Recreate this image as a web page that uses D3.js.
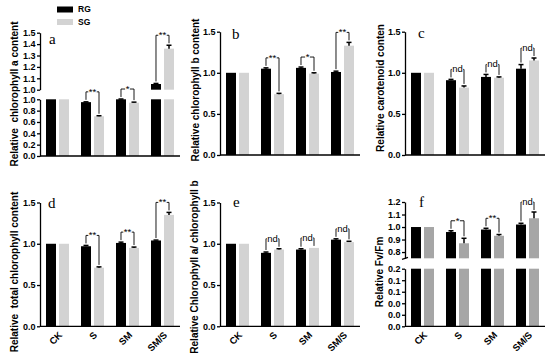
<!DOCTYPE html>
<html>
<head>
<meta charset="utf-8">
<script src="https://cdn.jsdelivr.net/npm/d3@7"></script>
<style>
  body { margin: 0; background: #fff; }
  text { font-family: "Liberation Sans", Arial, sans-serif; }
</style>
</head>
<body>
<div id="chart"></div>
<script>
var categories = ["CK", "S", "SM", "SM/S"];
var seriesNames = ["RG", "SG"];

// a - chlorophyll a
var chlA_RG = [1.00, 0.95, 1.00, 1.05];
var chlA_SG = [1.00, 0.70, 0.94, 1.36];
var chlA_RGerr = [0, 0.005, 0.005, 0.005];
var chlA_SGerr = [0, 0.01, 0.01, 0.03];
var chlA_sig = ["", "**", "*", "**"];

// b - chlorophyll b
var chlB_RG = [1.00, 1.05, 1.06, 1.01];
var chlB_SG = [1.00, 0.74, 0.99, 1.33];
var chlB_RGerr = [0, 0.01, 0.01, 0.01];
var chlB_SGerr = [0, 0.01, 0.01, 0.04];
var chlB_sig = ["", "**", "*", "**"];

// c - carotenoid
var car_RG = [1.00, 0.91, 0.95, 1.05];
var car_SG = [1.00, 0.82, 0.94, 1.15];
var car_RGerr = [0, 0.01, 0.03, 0.05];
var car_SGerr = [0, 0.02, 0.01, 0.03];
var car_sig = ["", "nd", "nd", "nd"];

// d - total chlorophyll
var tot_RG = [1.00, 0.97, 1.01, 1.04];
var tot_SG = [1.00, 0.71, 0.95, 1.35];
var tot_RGerr = [0, 0.01, 0.01, 0.005];
var tot_SGerr = [0, 0.01, 0.01, 0.03];
var tot_sig = ["", "**", "**", "**"];

// e - chlorophyll a / b
var ratio_RG = [1.00, 0.89, 0.93, 1.05];
var ratio_SG = [1.00, 0.93, 0.95, 1.02];
var ratio_RGerr = [0, 0.01, 0.01, 0.01];
var ratio_SGerr = [0, 0.01, 0, 0.01];
var ratio_sig = ["", "nd", "nd", "nd"];

// f - Fv/Fm
var fv_RG = [1.00, 0.96, 0.98, 1.02];
var fv_SG = [1.00, 0.87, 0.93, 1.07];
var fv_RGerr = [0, 0.01, 0.01, 0.01];
var fv_SGerr = [0, 0.04, 0.01, 0.05];
var fv_sig = ["", "*", "**", "nd"];

var ticksA_low = [0, 0.2, 0.4, 0.6, 0.8, 1.0];
var ticksA_high = [1.0, 1.1, 1.2, 1.3, 1.4, 1.5];
var ticksMain = [0, 0.5, 1.0, 1.5];
var ticksF_low = [0, 0.04, 0.08, 0.12, 0.16, 0.2];
var labelsF_low = ["0.0", "0.0", "0.0", "0.1", "0.1", "0.2"];
var ticksF_high = [0.8, 0.9, 1.0, 1.1, 1.2];

var W = 550, H = 358;
var fmt = d3.format(".1f");

var svg = d3.select("#chart").append("svg")
  .attr("width", W)
  .attr("height", H);

var panels = [
  { letter: "a", rg: chlA_RG, sg: chlA_SG, rgErr: chlA_RGerr, sgErr: chlA_SGerr, sig: chlA_sig,
    x0: 40, x1: 180, sgColor: "#d3d3d3", xLabels: false,
    ylabel: "Relative  chlorophyll a content", labelPos: [14, 94], letterPos: [49, 44],
    segs: [ { d: [0, 1], r: [156, 99.3], ticks: ticksA_low },
            { d: [1, 1.5], r: [89.7, 32.7], ticks: ticksA_high } ] },
  { letter: "b", rg: chlB_RG, sg: chlB_SG, rgErr: chlB_RGerr, sgErr: chlB_SGerr, sig: chlB_sig,
    x0: 220, x1: 360, sgColor: "#d3d3d3", xLabels: false,
    ylabel: "Relative chlorophyll b content", labelPos: [195, 90], letterPos: [232, 39],
    segs: [ { d: [0, 1.5], r: [155, 31.7], ticks: ticksMain } ] },
  { letter: "c", rg: car_RG, sg: car_SG, rgErr: car_RGerr, sgErr: car_SGerr, sig: car_sig,
    x0: 405, x1: 545, sgColor: "#d3d3d3", xLabels: false,
    ylabel: "Relative carotenoid conten", labelPos: [380, 88], letterPos: [418, 38],
    segs: [ { d: [0, 1.5], r: [155, 31.7], ticks: ticksMain } ] },
  { letter: "d", rg: tot_RG, sg: tot_SG, rgErr: tot_RGerr, sgErr: tot_SGerr, sig: tot_sig,
    x0: 40, x1: 180, sgColor: "#d3d3d3", xLabels: true,
    ylabel: "Relative  total chlorophyll content", labelPos: [14, 272], letterPos: [48, 208],
    segs: [ { d: [0, 1.5], r: [326.3, 202.5], ticks: ticksMain } ] },
  { letter: "e", rg: ratio_RG, sg: ratio_SG, rgErr: ratio_RGerr, sgErr: ratio_SGerr, sig: ratio_sig,
    x0: 220, x1: 360, sgColor: "#d3d3d3", xLabels: true,
    ylabel: "Relative Chlorophyll a/ chlorophyll b", labelPos: [194, 267], letterPos: [233, 207],
    segs: [ { d: [0, 1.5], r: [326.3, 202.5], ticks: ticksMain } ] },
  { letter: "f", rg: fv_RG, sg: fv_SG, rgErr: fv_RGerr, sgErr: fv_SGerr, sig: fv_sig,
    x0: 405, x1: 545, sgColor: "#a6a6a6", xLabels: true,
    ylabel: "Relative Fv/Fm", labelPos: [379, 272], letterPos: [419, 207],
    segs: [ { d: [0, 0.2], r: [326.3, 268.7], ticks: ticksF_low, labels: labelsF_low },
            { d: [0.75, 1.2], r: [258.3, 202], ticks: ticksF_high, brokenBottom: true } ] }
];

panels.forEach(drawPanel);

function drawPanel(p) {
  var g = svg.append("g");

  var x = d3.scaleBand().domain(categories).range([p.x0, p.x1]);
  var xs = d3.scaleBand().domain(seriesNames).range([-11.5, 11.5]).paddingInner(0.2308);

  p.segs.forEach(function(s) {
    s.y = d3.scaleLinear().domain(s.d).range(s.r);
  });

  // which segment a value sits in
  function segOf(v) {
    for (var k = 0; k < p.segs.length; k++) {
      if (v <= p.segs[k].d[1]) return p.segs[k];
    }
    return p.segs[p.segs.length - 1];
  }

  var rows = categories.map(function(c, i) {
    return { cat: c, vals: [
      { s: "RG", v: p.rg[i], e: p.rgErr[i], color: "#000" },
      { s: "SG", v: p.sg[i], e: p.sgErr[i], color: p.sgColor } ], sig: p.sig[i] };
  });

  // bars, segment by segment
  p.segs.forEach(function(s) {
    rows.forEach(function(row) {
      row.vals.forEach(function(d) {
        if (d.v <= s.d[0]) return;
        var top = Math.min(d.v, s.d[1]);
        g.append("rect")
          .attr("x", x(row.cat) + x.bandwidth() / 2 + xs(d.s))
          .attr("y", s.y(top))
          .attr("width", xs.bandwidth())
          .attr("height", s.y(s.d[0]) - s.y(top))
          .attr("fill", d.color);
      });
    });
  });

  // error bars (drawn in the segment of the bar top)
  rows.forEach(function(row) {
    row.vals.forEach(function(d) {
      d.top = segOf(d.v).y(d.v + d.e);
      if (!d.e) return;
      var cx = x(row.cat) + x.bandwidth() / 2 + xs(d.s) + xs.bandwidth() / 2;
      var y0 = segOf(d.v).y(d.v);
      g.append("line")
        .attr("x1", cx).attr("x2", cx)
        .attr("y1", y0).attr("y2", d.top)
        .attr("stroke", "#000").attr("stroke-width", 1.5);
      g.append("line")
        .attr("x1", cx - 2.5).attr("x2", cx + 2.5)
        .attr("y1", d.top).attr("y2", d.top)
        .attr("stroke", "#000").attr("stroke-width", 1.5);
    });
  });

  // y axes
  p.segs.forEach(function(s) {
    var axis = d3.axisLeft(s.y)
      .tickValues(s.ticks)
      .tickSize(3)
      .tickSizeOuter(0)
      .tickFormat(function(t, j) { return s.labels ? s.labels[j] : fmt(t); });
    var ag = g.append("g")
      .attr("transform", "translate(" + p.x0 + ",0)")
      .call(axis);
    ag.select(".domain").attr("stroke-width", 1.3);
    ag.selectAll(".tick line").attr("stroke-width", 1.3);
    ag.selectAll(".tick text")
      .attr("font-size", "9px")
      .attr("font-weight", "bold")
      .attr("font-family", "Liberation Sans, Arial, sans-serif")
      .attr("x", -4.5);
    if (s.brokenBottom) {
      ag.append("line")
        .attr("x1", -3).attr("x2", 3)
        .attr("y1", s.r[0] + 1).attr("y2", s.r[0] - 1)
        .attr("stroke", "#000").attr("stroke-width", 1.3);
    }
  });

  // x axis
  var baseY = p.segs[0].r[0];
  g.append("line")
    .attr("x1", p.x0).attr("x2", p.x1)
    .attr("y1", baseY).attr("y2", baseY)
    .attr("stroke", "#000").attr("stroke-width", 1.3);

  if (p.xLabels) {
    categories.forEach(function(c) {
      var cx = x(c) + x.bandwidth() / 2;
      g.append("text")
        .attr("transform", "translate(" + (cx + 3) + "," + (baseY + 7) + ") rotate(-45)")
        .attr("text-anchor", "end")
        .attr("dy", "0.35em")
        .attr("font-size", "9.5px")
        .attr("font-weight", "bold")
        .text(c);
    });
  }

  // significance brackets
  rows.forEach(function(row) {
    if (!row.sig) return;
    var c = x(row.cat) + x.bandwidth() / 2;
    var xa = c + xs("RG") + xs.bandwidth() / 2;
    var xb = c + xs("SG") + xs.bandwidth() / 2;
    var ta = row.vals[0].top;
    var tb = row.vals[1].top;
    var yb = Math.min(ta, tb) - 10;
    var mid = (xa + xb) / 2;
    var t = g.append("text")
      .attr("x", mid)
      .attr("y", yb + 3)
      .attr("text-anchor", "middle")
      .attr("font-size", "9.5px")
      .text(row.sig);
    var half = t.node().getComputedTextLength() / 2 + 0.5;
    var pathL = "M" + xa + "," + (ta - 2) + "V" + yb + "H" + (mid - half);
    var pathR = "M" + (mid + half) + "," + yb + "H" + xb + "V" + (tb - 2);
    g.append("path").attr("d", pathL).attr("fill", "none").attr("stroke", "#000").attr("stroke-width", 0.9);
    g.append("path").attr("d", pathR).attr("fill", "none").attr("stroke", "#000").attr("stroke-width", 0.9);
  });

  // y label
  g.append("text")
    .attr("transform", "translate(" + p.labelPos[0] + "," + p.labelPos[1] + ") rotate(-90)")
    .attr("text-anchor", "middle")
    .attr("dy", "0.35em")
    .attr("font-size", "10px")
    .attr("font-weight", "bold")
    .style("white-space", "pre")
    .text(p.ylabel);

  // panel letter
  g.append("text")
    .attr("x", p.letterPos[0])
    .attr("y", p.letterPos[1])
    .style("font-family", "'Liberation Serif', 'Times New Roman', serif")
    .attr("font-size", "15px")
    .text(p.letter);
}

// legend
var legend = svg.append("g");
var legendColors = ["#000", "#d3d3d3"];
seriesNames.forEach(function(s, i) {
  legend.append("rect")
    .attr("x", 57)
    .attr("y", 6.5 + i * 12.5)
    .attr("width", 16)
    .attr("height", 6)
    .attr("fill", legendColors[i]);
  legend.append("text")
    .attr("x", 78)
    .attr("y", 9.5 + i * 12.5)
    .attr("dy", "0.35em")
    .attr("font-size", "8.5px")
    .attr("font-weight", "bold")
    .text(s);
});
</script>
</body>
</html>
